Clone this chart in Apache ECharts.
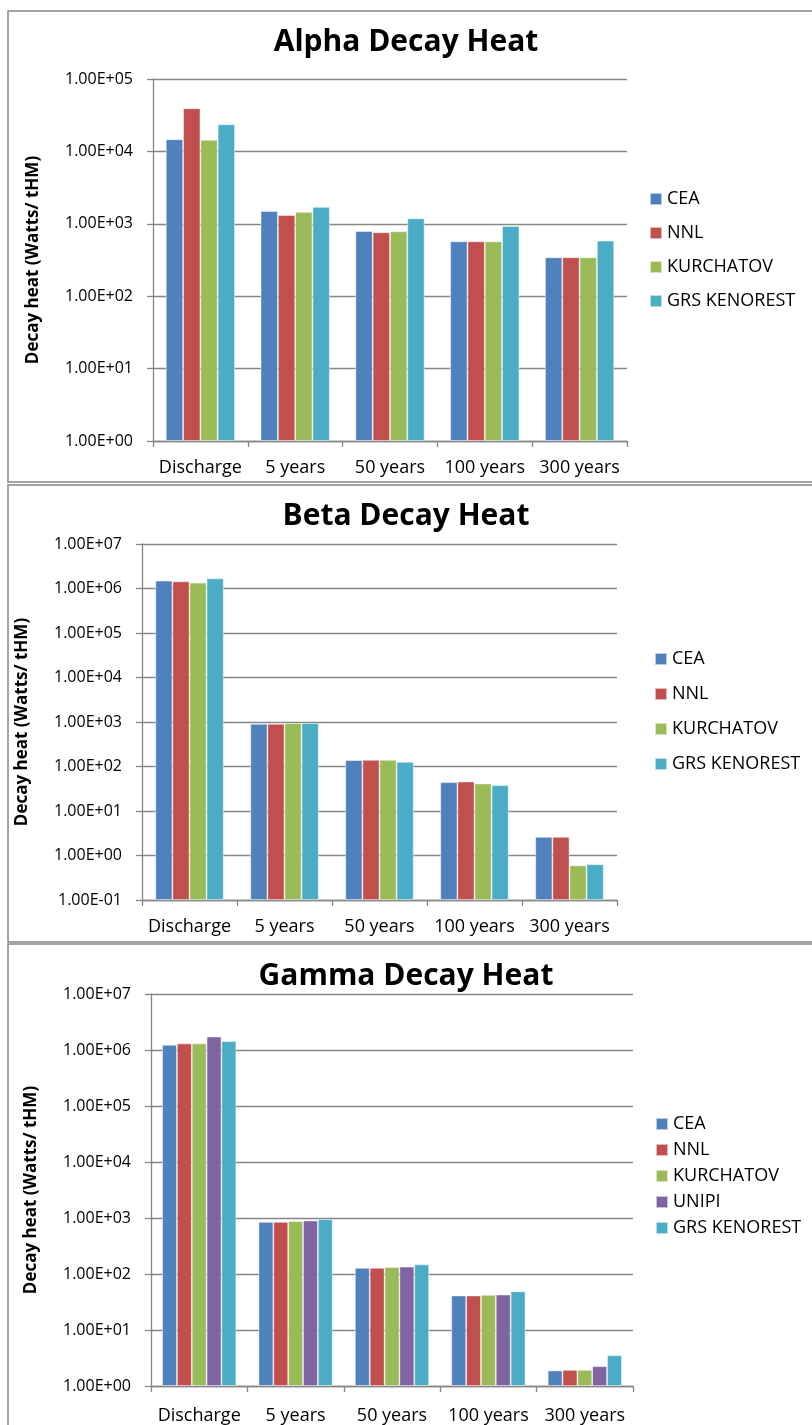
<!DOCTYPE html>
<html>
<head>
<meta charset="utf-8">
<title>Decay Heat</title>
<script src="https://cdn.jsdelivr.net/npm/echarts@6/dist/echarts.min.js"></script>
<style>
  html, body { margin: 0; padding: 0; background: #fff; }
  #chart { width: 812px; height: 1425px; }
</style>
</head>
<body>
<div id="chart"></div>
<script>
// Time points after discharge
const categories = ['Discharge', '5 years', '50 years', '100 years', '300 years'];

// Alpha decay heat (W/tHM)
const alphaCEA = [14700, 1500, 795, 573, 345];
const alphaNNL = [39400, 1320, 763, 573, 345];
const alphaKURCHATOV = [14400, 1460, 788, 573, 345];
const alphaGRS = [23700, 1710, 1190, 933, 585];

// Beta decay heat (W/tHM)
const betaCEA = [1500000, 910, 139, 44.4, 2.61];
const betaNNL = [1450000, 910, 141, 46.0, 2.61];
const betaKURCHATOV = [1350000, 943, 141, 41.5, 0.60];
const betaGRS = [1690000, 943, 127, 38.0, 0.635];

// Gamma decay heat (W/tHM)
const gammaCEA = [1240000, 853, 129, 41.3, 1.89];
const gammaNNL = [1310000, 853, 129, 41.3, 1.94];
const gammaKURCHATOV = [1310000, 877, 133, 42.5, 1.94];
const gammaUNIPI = [1740000, 903, 135, 43.0, 2.26];
const gammaGRS = [1440000, 953, 148, 49.2, 3.54];

const colors = {
  'CEA': '#4F81BD',
  'NNL': '#C0504D',
  'KURCHATOV': '#9BBB59',
  'UNIPI': '#8064A2',
  'GRS KENOREST': '#4BACC6'
};

const FONT = '"Open Sans", "Noto Sans", sans-serif';
const GRAY = '#868686';

function sci(v) {
  const e = Math.round(Math.log10(v));
  const a = Math.abs(e);
  return '1.00E' + (e < 0 ? '-' : '+') + (a < 10 ? '0' : '') + a;
}

const panels = [
  { title: 'Alpha Decay Heat', titleTop: 27, grid: { left: 153, top: 79, width: 474, height: 362 },
    min: 1, max: 1e5, gap: '27%', labelMargin: 18,
    names: ['CEA', 'NNL', 'KURCHATOV', 'GRS KENOREST'],
    values: [alphaCEA, alphaNNL, alphaKURCHATOV, alphaGRS],
    legend: { left: 649, top: 190, itemGap: 16 } },
  { title: 'Beta Decay Heat', titleTop: 501, grid: { left: 142, top: 544, width: 475, height: 356 },
    min: 0.1, max: 1e7, gap: '28%', labelMargin: 18,
    names: ['CEA', 'NNL', 'KURCHATOV', 'GRS KENOREST'],
    values: [betaCEA, betaNNL, betaKURCHATOV, betaGRS],
    legend: { left: 654, top: 650, itemGap: 17 } },
  { title: 'Gamma Decay Heat', titleTop: 961, grid: { left: 151, top: 994, width: 482, height: 395 },
    min: 1, max: 1e7, gap: '23%', labelMargin: 21,
    names: ['CEA', 'NNL', 'KURCHATOV', 'UNIPI', 'GRS KENOREST'],
    values: [gammaCEA, gammaNNL, gammaKURCHATOV, gammaUNIPI, gammaGRS],
    legend: { left: 655, top: 1115, itemGap: 8 } }
];

const option = {
  animation: false,
  backgroundColor: '#fff',
  textStyle: { fontFamily: FONT },
  graphic: [
    { type: 'rect', shape: { x: 8, y: 11, width: 900, height: 471 }, style: { fill: 'none', stroke: GRAY, lineWidth: 1.5 } },
    { type: 'rect', shape: { x: 8, y: 485, width: 900, height: 457 }, style: { fill: 'none', stroke: GRAY, lineWidth: 1.5 } },
    { type: 'rect', shape: { x: 8, y: 944, width: 900, height: 600 }, style: { fill: 'none', stroke: GRAY, lineWidth: 1.5 } }
  ],
  title: [],
  legend: [],
  grid: [],
  xAxis: [],
  yAxis: [],
  series: []
};

panels.forEach((p, i) => {
  option.title.push({
    text: p.title, left: 'center', top: p.titleTop, padding: 0,
    textStyle: { fontFamily: FONT, fontSize: 30, fontWeight: 'bold', color: '#000' }
  });
  option.legend.push({
    data: p.names, orient: 'vertical', left: p.legend.left, top: p.legend.top,
    itemGap: p.legend.itemGap, itemWidth: 12, itemHeight: 12, padding: 0, icon: 'rect',
    selectedMode: false,
    textStyle: { fontFamily: FONT, fontSize: 18, color: '#000', lineHeight: 18 }
  });
  option.grid.push(Object.assign({ containLabel: false }, p.grid));
  option.xAxis.push({
    type: 'category', gridIndex: i, data: categories,
    axisLine: { lineStyle: { color: GRAY, width: 1.3 } },
    axisTick: { show: true, length: 6, alignWithLabel: false, interval: 0, lineStyle: { color: GRAY, width: 1.3 } },
    axisLabel: { margin: p.labelMargin, interval: 0, fontFamily: FONT, fontSize: 18, color: '#000' },
    splitLine: { show: false }
  });
  option.yAxis.push({
    type: 'log', logBase: 10, gridIndex: i, min: p.min, max: p.max, splitNumber: 10,
    startValue: p.min,
    name: 'Decay heat (Watts/ tHM)', nameLocation: 'middle', nameRotate: 90, nameGap: 111,
    nameTextStyle: { fontFamily: FONT, fontSize: 17, fontWeight: 'bold', color: '#000' },
    axisLine: { show: true, lineStyle: { color: GRAY, width: 1.3 } },
    axisTick: { show: true, length: 6, lineStyle: { color: GRAY, width: 1.3 } },
    axisLabel: { margin: 20, fontFamily: FONT, fontSize: 16, color: '#000', formatter: sci },
    splitLine: { show: true, lineStyle: { color: GRAY, width: 1.3 } }
  });
  p.names.forEach((n, k) => {
    option.series.push({
      type: 'bar', name: n, xAxisIndex: i, yAxisIndex: i, data: p.values[k],
      barGap: '0%', barCategoryGap: p.gap,
      itemStyle: { color: colors[n], borderColor: 'rgba(255,255,255,0.6)', borderWidth: 0.8 }
    });
  });
});

const chart = echarts.init(document.getElementById('chart'), null, { renderer: 'canvas' });
chart.setOption(option);
</script>
</body>
</html>
